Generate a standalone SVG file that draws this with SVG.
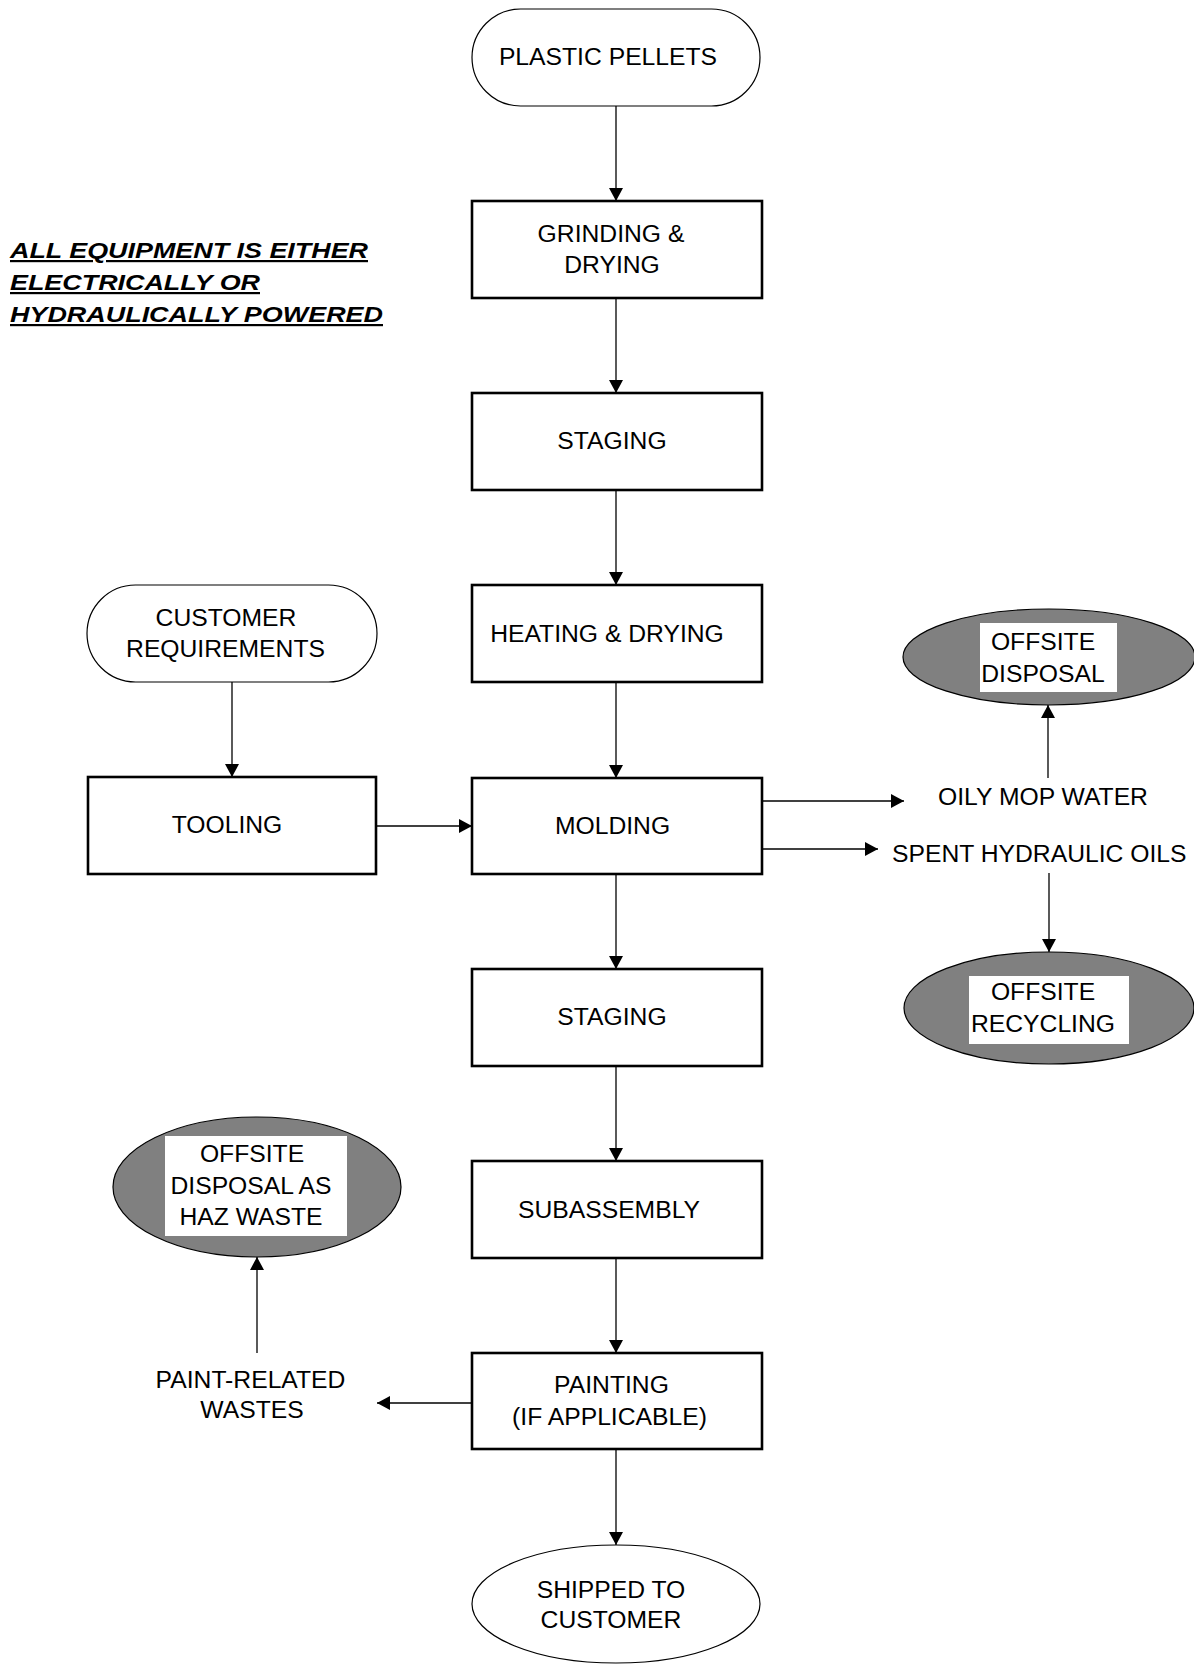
<svg xmlns="http://www.w3.org/2000/svg" width="1194" height="1665" viewBox="0 0 1194 1665">
<style>
.t{font-family:"Liberation Sans",Arial,sans-serif;font-size:24.7px;fill:#000;text-anchor:middle}
.ts{font-family:"Liberation Sans",Arial,sans-serif;font-size:24.7px;fill:#000}
.note{font-family:"Liberation Sans",Arial,sans-serif;font-size:22px;font-weight:bold;font-style:italic;text-decoration:underline;fill:#000}
.box{fill:#fff;stroke:#000;stroke-width:2.6}
.term{fill:#fff;stroke:#000;stroke-width:1.2}
.dest{fill:#808080;stroke:#000;stroke-width:1.2}
.lbl{fill:#fff;stroke:none}
.c{stroke:#000;stroke-width:1.3;fill:none;marker-end:url(#ah)}
</style>
<defs>
<marker id="ah" markerUnits="userSpaceOnUse" markerWidth="14" markerHeight="14" refX="13" refY="7" orient="auto">
<path d="M0,0 L13,7 L0,14 Z" fill="#000"/>
</marker>
</defs>
<rect width="1194" height="1665" fill="#fff"/>

<g id="note">
<text class="note" x="10" y="258" textLength="358" lengthAdjust="spacingAndGlyphs">ALL EQUIPMENT IS EITHER</text>
<text class="note" x="10" y="290" textLength="250" lengthAdjust="spacingAndGlyphs">ELECTRICALLY OR</text>
<text class="note" x="10" y="322" textLength="373" lengthAdjust="spacingAndGlyphs">HYDRAULICALLY POWERED</text>
</g>

<g id="connectors">
<line class="c" x1="616" y1="106" x2="616" y2="201"/>
<line class="c" x1="616" y1="298" x2="616" y2="393"/>
<line class="c" x1="616" y1="490" x2="616" y2="585"/>
<line class="c" x1="616" y1="682" x2="616" y2="778"/>
<line class="c" x1="616" y1="874" x2="616" y2="969"/>
<line class="c" x1="616" y1="1066" x2="616" y2="1161"/>
<line class="c" x1="616" y1="1258" x2="616" y2="1353"/>
<line class="c" x1="616" y1="1449" x2="616" y2="1545"/>
<line class="c" x1="232" y1="682" x2="232" y2="777"/>
<line class="c" x1="376" y1="826" x2="472" y2="826"/>
<line class="c" x1="762" y1="801" x2="904" y2="801"/>
<line class="c" x1="762" y1="849" x2="878" y2="849"/>
<line class="c" x1="1048" y1="778" x2="1048" y2="705"/>
<line class="c" x1="1049" y1="873" x2="1049" y2="952"/>
<line class="c" x1="472" y1="1403" x2="377" y2="1403"/>
<line class="c" x1="257" y1="1353" x2="257" y2="1257"/>
</g>

<g id="plastic-pellets">
<rect class="term" x="472" y="9" width="288" height="97" rx="48.5" ry="48.5"/>
<text class="t" x="608" y="65">PLASTIC PELLETS</text>
</g>
<g id="grinding">
<rect class="box" x="472" y="201" width="290" height="97"/>
<text class="t" x="611" y="242">GRINDING &amp;</text>
<text class="t" x="612" y="273">DRYING</text>
</g>
<g id="staging1">
<rect class="box" x="472" y="393" width="290" height="97"/>
<text class="t" x="612" y="449">STAGING</text>
</g>
<g id="heating">
<rect class="box" x="472" y="585" width="290" height="97"/>
<text class="t" x="607" y="642">HEATING &amp; DRYING</text>
</g>
<g id="molding">
<rect class="box" x="472" y="778" width="290" height="96"/>
<text class="t" x="612.5" y="834">MOLDING</text>
</g>
<g id="staging2">
<rect class="box" x="472" y="969" width="290" height="97"/>
<text class="t" x="612" y="1025">STAGING</text>
</g>
<g id="subassembly">
<rect class="box" x="472" y="1161" width="290" height="97"/>
<text class="t" x="609" y="1218">SUBASSEMBLY</text>
</g>
<g id="painting">
<rect class="box" x="472" y="1353" width="290" height="96"/>
<text class="t" x="611.5" y="1393">PAINTING</text>
<text class="t" x="609.5" y="1425">(IF APPLICABLE)</text>
</g>
<g id="shipped">
<ellipse class="term" cx="616" cy="1604" rx="144" ry="59"/>
<text class="t" x="611" y="1598">SHIPPED TO</text>
<text class="t" x="611" y="1628">CUSTOMER</text>
</g>
<g id="customer-req">
<rect class="term" x="87" y="585" width="290" height="97" rx="48.5" ry="48.5"/>
<text class="t" x="226" y="626">CUSTOMER</text>
<text class="t" x="225.5" y="657">REQUIREMENTS</text>
</g>
<g id="tooling">
<rect class="box" x="88" y="777" width="288" height="97"/>
<text class="t" x="227" y="833">TOOLING</text>
</g>
<g id="offsite-disposal">
<ellipse class="dest" cx="1049" cy="657" rx="146" ry="48"/>
<rect class="lbl" x="980" y="623" width="137" height="69"/>
<text class="t" x="1043" y="650">OFFSITE</text>
<text class="t" x="1043" y="682">DISPOSAL</text>
</g>
<g id="oily-mop-water">
<text class="t" x="1043" y="805">OILY MOP WATER</text>
</g>
<g id="spent-oils">
<text class="ts" x="892" y="862">SPENT HYDRAULIC OILS</text>
</g>
<g id="offsite-recycling">
<ellipse class="dest" cx="1049" cy="1008" rx="145" ry="56"/>
<rect class="lbl" x="969" y="976" width="160" height="68"/>
<text class="t" x="1043" y="1000">OFFSITE</text>
<text class="t" x="1043" y="1032">RECYCLING</text>
</g>
<g id="haz-waste">
<ellipse class="dest" cx="257" cy="1187" rx="144" ry="70"/>
<rect class="lbl" x="165" y="1136" width="182" height="100"/>
<text class="t" x="252" y="1162">OFFSITE</text>
<text class="t" x="251" y="1194">DISPOSAL AS</text>
<text class="t" x="251" y="1225">HAZ WASTE</text>
</g>
<g id="paint-wastes">
<text class="t" x="250.5" y="1388">PAINT-RELATED</text>
<text class="t" x="252" y="1418">WASTES</text>
</g>
</svg>
